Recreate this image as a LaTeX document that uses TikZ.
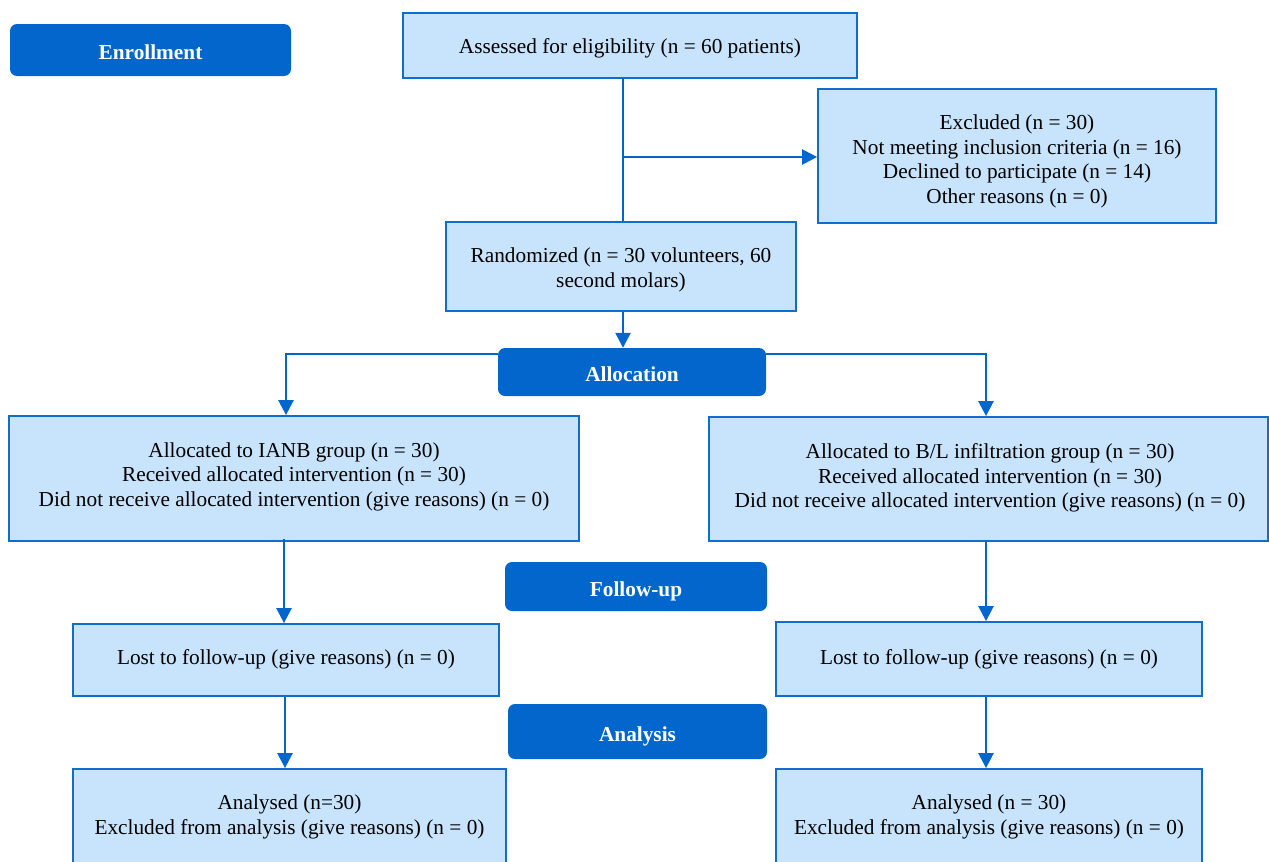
\documentclass[tikz,border=0pt]{standalone}
\usepackage{fontspec}
\setmainfont{Liberation Serif}
\usetikzlibrary{arrows.meta}
\definecolor{boxfill}{RGB}{200,227,252}
\definecolor{boxline}{RGB}{16,108,206}
\definecolor{darkblue}{RGB}{3,102,204}
\begin{document}
\begin{tikzpicture}[x=1pt,y=-1pt,
  box/.style={draw=boxline, line width=1.8pt, fill=boxfill, inner sep=0pt},
  txt/.style={align=center, inner sep=0pt, font=\fontsize{21.3}{24.5}\selectfont},
  stage/.style={fill=darkblue, rounded corners=7pt, text=white, font=\fontsize{21.3}{24}\selectfont\bfseries, inner sep=0pt, text height=19.5pt, text depth=0pt},
  conn/.style={draw=darkblue, line width=2.5pt},
  arr/.style={conn, -{Triangle[length=15pt,width=15pt]}}]
\useasboundingbox (0,0) rectangle (1269,862);
\clip (0,0) rectangle (1269,862);
% stage labels
\node[stage, minimum width=281pt, minimum height=52pt] (enroll) at (150.5,50) {Enrollment};
\node[stage, minimum width=268pt, minimum height=48pt] (alloc) at (632,372) {Allocation};
\node[stage, minimum width=262pt, minimum height=49pt] (follow) at (636,586.5) {Follow-up};
\node[stage, minimum width=259pt, minimum height=55pt] (analysis) at (637.5,731.5) {Analysis};
% boxes
\node[box, minimum width=454pt, minimum height=65pt] (assess) at (630,45.5) {};
\node[txt] (assesst) at (630,48.5) {Assessed for eligibility (n = 60 patients)};
\node[box, minimum width=398pt, minimum height=134pt] (excl) at (1017,156) {};
\node[txt] (exclt) at (1017,161.5) {Excluded (n = 30)\\Not meeting inclusion criteria (n = 16)\\Declined to participate (n = 14)\\Other reasons (n = 0)};
\node[box, minimum width=350pt, minimum height=89pt] (rand) at (621,266.5) {};
\node[txt] (randt) at (621,270) {Randomized (n = 30 volunteers, 60\\second molars)};
\node[box, minimum width=570pt, minimum height=125pt] (lalloc) at (294,478.5) {};
\node[txt] (lallct) at (294,476.5) {Allocated to IANB group (n = 30)\\Received allocated intervention (n = 30)\\Did not receive allocated intervention (give reasons) (n = 0)};
\node[box, minimum width=559pt, minimum height=124pt] (ralloc) at (988.5,479) {};
\node[txt] (rallct) at (990,478) {Allocated to B/L infiltration group (n = 30)\\Received allocated intervention (n = 30)\\Did not receive allocated intervention (give reasons) (n = 0)};
\node[box, minimum width=426pt, minimum height=72pt] (llost) at (286,660) {};
\node[txt] (llostt) at (286,659.5) {Lost to follow-up (give reasons) (n = 0)};
\node[box, minimum width=426pt, minimum height=74pt] (rlost) at (989,659) {};
\node[txt] (rlostt) at (989,659.5) {Lost to follow-up (give reasons) (n = 0)};
\node[box, minimum width=433pt, minimum height=116pt] (lan) at (289.5,827) {};
\node[txt] (lant) at (289.5,817) {Analysed (n=30)\\Excluded from analysis (give reasons) (n = 0)};
\node[box, minimum width=426pt, minimum height=116pt] (ran) at (989,827) {};
\node[txt] (rant) at (989,817) {Analysed (n = 30)\\Excluded from analysis (give reasons) (n = 0)};
% connectors
\coordinate (v) at (623,0);
\coordinate (j) at (623,157);
\draw[conn] (assess.south -| v) -- (rand.north -| v);
\draw[arr] (j) -- (excl.west |- j);
\draw[arr] (rand.south -| v) -- (alloc.north -| v);
\coordinate (al) at (286,354);
\coordinate (ar) at (986,354);
\draw[arr] (alloc.west |- al) -- (al) -- (lalloc.north -| al);
\draw[arr] (alloc.east |- ar) -- (ar) -- (ralloc.north -| ar);
\coordinate (xl1) at (284,0);
\coordinate (xl2) at (285,0);
\coordinate (xr) at (986,0);
\draw[arr] ([yshift=3pt]lalloc.south -| xl1) -- (llost.north -| xl1);
\draw[arr] (ralloc.south -| xr) -- (rlost.north -| xr);
\draw[arr] (llost.south -| xl2) -- (lan.north -| xl2);
\draw[arr] (rlost.south -| xr) -- (ran.north -| xr);
\end{tikzpicture}
\end{document}
